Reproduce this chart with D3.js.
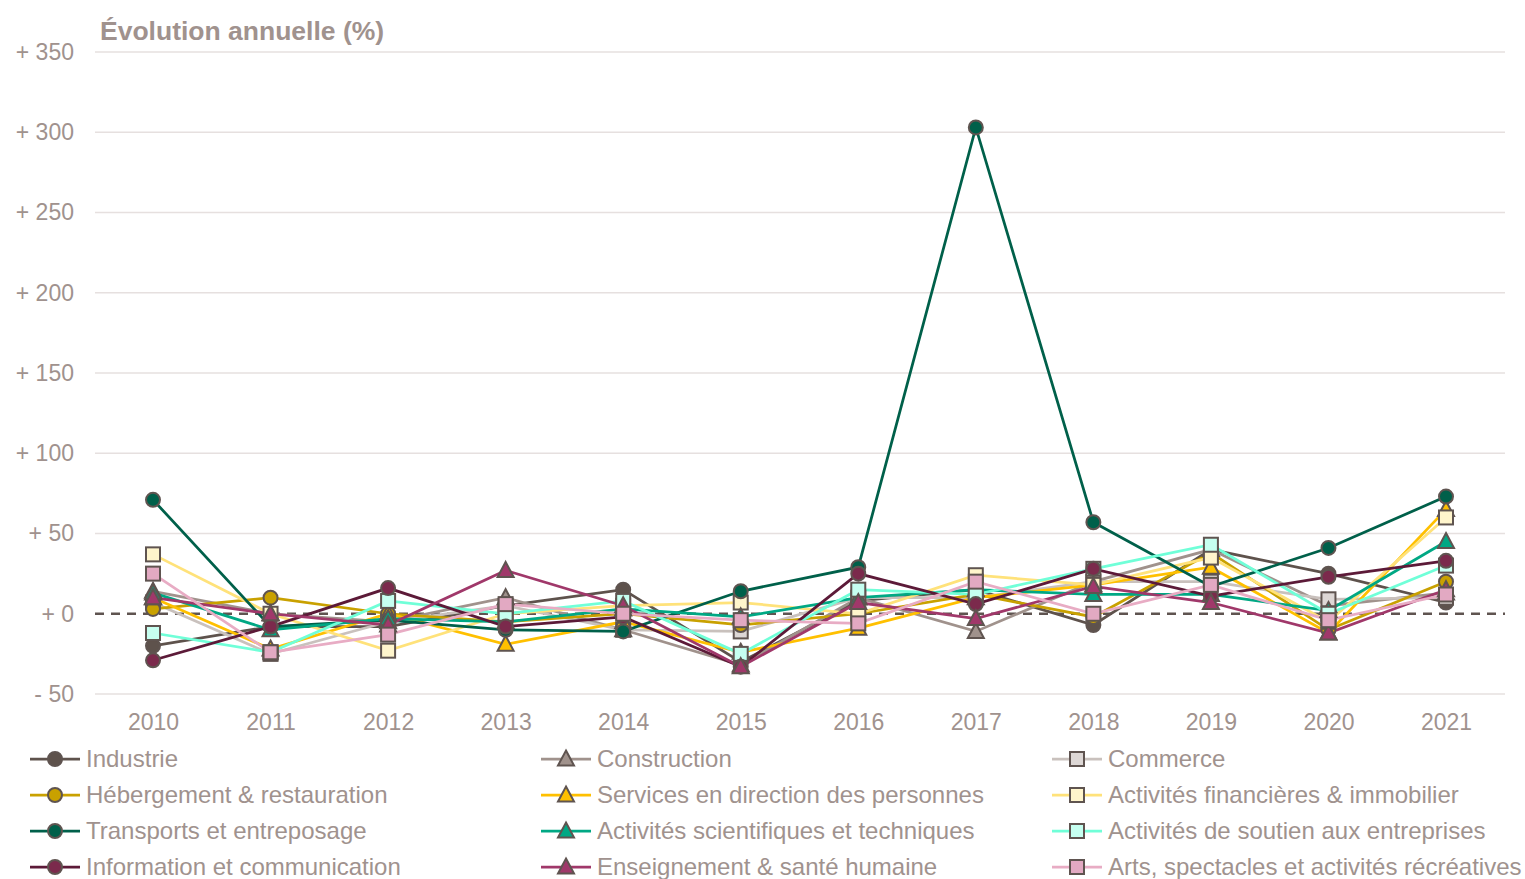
<!DOCTYPE html>
<html>
<head>
<meta charset="utf-8">
<script src="https://cdn.jsdelivr.net/npm/d3@7"></script>
<style>
  body { margin: 0; background: #fff; }
  text { font-family: "Liberation Sans", Arial, sans-serif; }
</style>
</head>
<body>
<div id="chart"></div>
<script>
// data
const years = [2010, 2011, 2012, 2013, 2014, 2015, 2016, 2017, 2018, 2019, 2020, 2021];
const yTicks = [-50, 0, 50, 100, 150, 200, 250, 300, 350];

const industrie      = [-20, -8, -8, 5, 15, -30, 8, 15, -7, 40, 25, 7];
const construction   = [14, 0, -5, 10, -10, -32, 10, -11, 20, 40, 5, 13];
const commerce       = [7, -25, -5, 5, -10, -11, 10, 10, 20, 20, 9, 10];
const hebergement    = [3, 10, 0, -5, 0, -7, 0, 12, -2, 38, -10, 20];
const services       = [10, -22, 0, -19, -5, -24, -9, 10, 18, 29, -12, 65];
const financieres    = [37, 0, -23, 0, 5, 7, 0, 24, 18, 35, -5, 60];
const transports     = [71, -8, -4, -10, -11, 14, 29, 303, 57, 17, 41, 73];
const scientifiques  = [13, -10, -3, -5, 3, -2, 10, 15, 12, 12, 2, 45];
const soutien        = [-12, -24, 8, 0, 8, -25, 15, 12, 28, 43, 0, 30];
const information    = [-29, -8, 16, -8, -2, -33, 25, 6, 28, 11, 23, 33];
const enseignement   = [10, 0, -7, 27, 5, -33, 7, -3, 17, 7, -12, 15];
const arts           = [25, -24, -13, 6, 0, -4, -6, 20, 0, 18, -4, 12];

const series = [
  {name: "Industrie", values: industrie, line: "#5e524c", fill: "#5e524c", shape: "circle"},
  {name: "Construction", values: construction, line: "#a0928c", fill: "#a0928c", shape: "triangle"},
  {name: "Commerce", values: commerce, line: "#c9c1bd", fill: "#ddd7d5", shape: "square"},
  {name: "Hébergement & restauration", values: hebergement, line: "#c9a100", fill: "#c9a100", shape: "circle"},
  {name: "Services en direction des personnes", values: services, line: "#ffc000", fill: "#ffc000", shape: "triangle"},
  {name: "Activités financières & immobilier", values: financieres, line: "#ffe27a", fill: "#fff5cc", shape: "square"},
  {name: "Transports et entreposage", values: transports, line: "#00604a", fill: "#00604a", shape: "circle"},
  {name: "Activités scientifiques et techniques", values: scientifiques, line: "#00a884", fill: "#00a884", shape: "triangle"},
  {name: "Activités de soutien aux entreprises", values: soutien, line: "#70ffd8", fill: "#c6fff0", shape: "square"},
  {name: "Information et communication", values: information, line: "#5c1a38", fill: "#7b2a4c", shape: "circle"},
  {name: "Enseignement & santé humaine", values: enseignement, line: "#a0386a", fill: "#a0386a", shape: "triangle"},
  {name: "Arts, spectacles et activités récréatives", values: arts, line: "#e8acc4", fill: "#e2a9c2", shape: "square"}
];

const textColor = "#a0928e",
    outline = "#5f5450";

const width = 1525, height = 879;
const margin = {top: 52, right: 20, bottom: 185, left: 95};

const svg = d3.select("#chart")
    .append("svg")
    .attr("width", width)
    .attr("height", height);

const x = d3.scalePoint()
    .domain(years)
    .range([153, 1446]);

const y = d3.scaleLinear()
    .domain([-50, 350])
    .range([height - margin.bottom, margin.top]);

// grid
svg.append("g")
    .selectAll("line")
    .data(yTicks.filter(d => d !== 0))
    .enter()
    .append("line")
    .attr("x1", margin.left)
    .attr("x2", width - margin.right)
    .attr("y1", d => y(d))
    .attr("y2", d => y(d))
    .attr("stroke", "#e6e0df")
    .attr("stroke-width", 1.5);

// zero line
svg.append("line")
    .attr("x1", margin.left)
    .attr("x2", width - margin.right)
    .attr("y1", y(0))
    .attr("y2", y(0))
    .attr("stroke", "#5f5450")
    .attr("stroke-width", 2.5)
    .attr("stroke-dasharray", "9,7");

// y axis labels
const yAxis = svg.append("g")
    .attr("transform", `translate(${margin.left - 21},0)`)
    .call(d3.axisLeft(y).tickValues(yTicks).tickSize(0)
        .tickFormat(d => (d < 0 ? "- " : "+ ") + Math.abs(d)));
yAxis.select(".domain").remove();
yAxis.selectAll("text")
    .attr("x", 0)
    .attr("fill", textColor)
    .style("font-size", "23px");

// x axis labels
const xAxis = svg.append("g")
    .attr("transform", `translate(0,${height - margin.bottom + 17})`)
    .call(d3.axisBottom(x).tickSize(0));
xAxis.select(".domain").remove();
xAxis.selectAll("text")
    .attr("fill", textColor)
    .style("font-size", "23px");

// title
svg.append("text")
    .attr("x", 100)
    .attr("y", 40)
    .attr("fill", textColor)
    .style("font-size", "26.5px")
    .style("font-weight", "bold")
    .text("Évolution annuelle (%)");

function drawMarker(g, shape, fill) {
    if(shape === "circle") {
        g.append("circle").attr("r", 7);
    } else if(shape === "square") {
        g.append("rect").attr("x", -7).attr("y", -7).attr("width", 14).attr("height", 14);
    } else {
        g.append("path").attr("d", "M0,-8.5L8,6.5L-8,6.5Z");
    }
    g.selectAll("*")
        .attr("fill", fill)
        .attr("stroke", outline)
        .attr("stroke-width", 2);
}

const line = d3.line()
    .x((d, i) => x(years[i]))
    .y(d => y(d));

// lines
svg.append("g")
    .selectAll("path")
    .data(series)
    .enter()
    .append("path")
    .attr("d", s => line(s.values))
    .attr("fill", "none")
    .attr("stroke", s => s.line)
    .attr("stroke-width", 2.75);

// markers
for(const s of series) {
    s.values.forEach((v, i) => {
        const g = svg.append("g")
            .attr("transform", `translate(${x(years[i])},${y(v)})`);
        drawMarker(g, s.shape, s.fill);
    });
}

// legend
const legendCols = [30, 541, 1052],
    legendRows = [759, 795, 831, 867];
series.forEach((s, i) => {
    const lx = legendCols[i % 3],
        ly = legendRows[Math.floor(i / 3)];
    const g = svg.append("g");
    g.append("line")
        .attr("x1", lx)
        .attr("x2", lx + 50)
        .attr("y1", ly)
        .attr("y2", ly)
        .attr("stroke", s.line)
        .attr("stroke-width", 2.75);
    const m = g.append("g").attr("transform", `translate(${lx + 25},${ly})`);
    drawMarker(m, s.shape, s.fill);
    g.append("text")
        .attr("x", lx + 56)
        .attr("y", ly)
        .attr("dy", "0.35em")
        .attr("fill", textColor)
        .style("font-size", "24px")
        .text(s.name);
});
</script>
</body>
</html>
